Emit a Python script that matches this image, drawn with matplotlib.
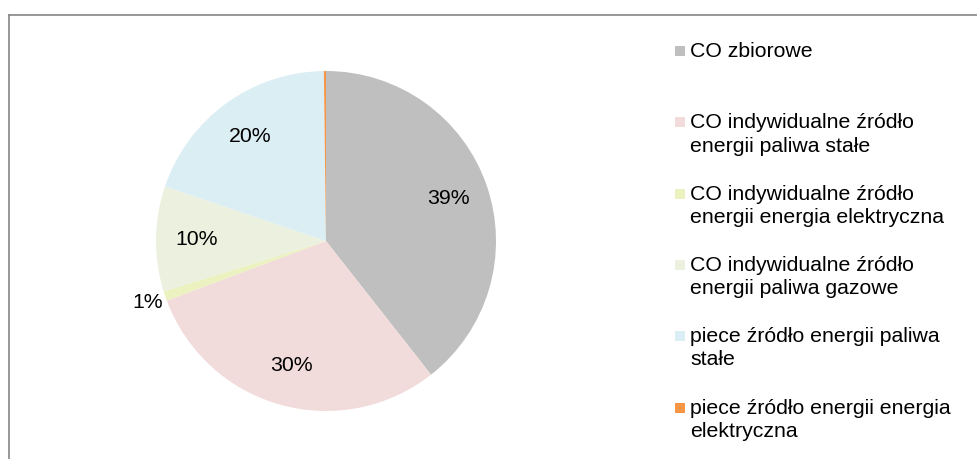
import matplotlib
matplotlib.use("Agg")
import matplotlib.pyplot as plt
from matplotlib.lines import Line2D
from matplotlib.patches import Rectangle

plt.rcParams['font.family'] = ['Liberation Sans', 'DejaVu Sans']

labels = ["CO zbiorowe",
          "CO indywidualne źródło\nenergii paliwa stałe",
          "CO indywidualne źródło\nenergii energia elektryczna",
          "CO indywidualne źródło\nenergii paliwa gazowe",
          "piece źródło energii paliwa\nstałe",
          "piece źródło energii energia\nelektryczna"]
values = [39.4, 29.9, 0.9, 10.0, 19.6, 0.2]
colors = ["#BFBFBF", "#F2DCDB", "#EBF1BF", "#EBF1DE", "#DBEEF4", "#F79646"]

W, H = 978, 459
fig = plt.figure(figsize=(W / 100, H / 100), dpi=100)

# pie axes: center (326, 241), radius 170 px
cx, cy, r = 326, 241, 170
ax = fig.add_axes([(cx - r) / W, 1 - (cy + r) / H, 2 * r / W, 2 * r / H])


def fmt(p):
    return "%.0f%%" % p if p >= 0.5 else ""


wedges, texts, autotexts = ax.pie(values, colors=colors, startangle=90, counterclock=False,
                                  autopct=fmt, pctdistance=0.76,
                                  wedgeprops=dict(linewidth=0),
                                  textprops=dict(fontsize=15.3, color="black"))
# small slice label sits outside
x2, y2 = autotexts[2].get_position()
autotexts[2].set_position((x2 / 0.76 * 1.11, y2 / 0.76 * 1.11))
ax.set_xlim(-1, 1)
ax.set_ylim(-1, 1)
ax.set_aspect("equal")
ax.axis("off")

# legend drawn by hand (uneven Excel layout)
step = 71.3
for i, (lab, col) in enumerate(zip(labels, colors)):
    top = 42 + i * step
    fig.patches.append(Rectangle((675 / W, 1 - (top + 14) / H), 10 / W, 10 / H,
                                 transform=fig.transFigure, facecolor=col, edgecolor="none"))
    fig.text(690 / W, 1 - top / H, lab, fontsize=15.3, va="top", ha="left",
             linespacing=1.28, color="black")

# chart border (top and left visible)
fig.add_artist(Line2D([8.5 / W, 1], [1 - 14.5 / H, 1 - 14.5 / H], color="#868686", lw=1.2))
fig.add_artist(Line2D([8.5 / W, 8.5 / W], [0, 1 - 14.5 / H], color="#868686", lw=1.2))

fig.savefig("out.png", dpi=100)
